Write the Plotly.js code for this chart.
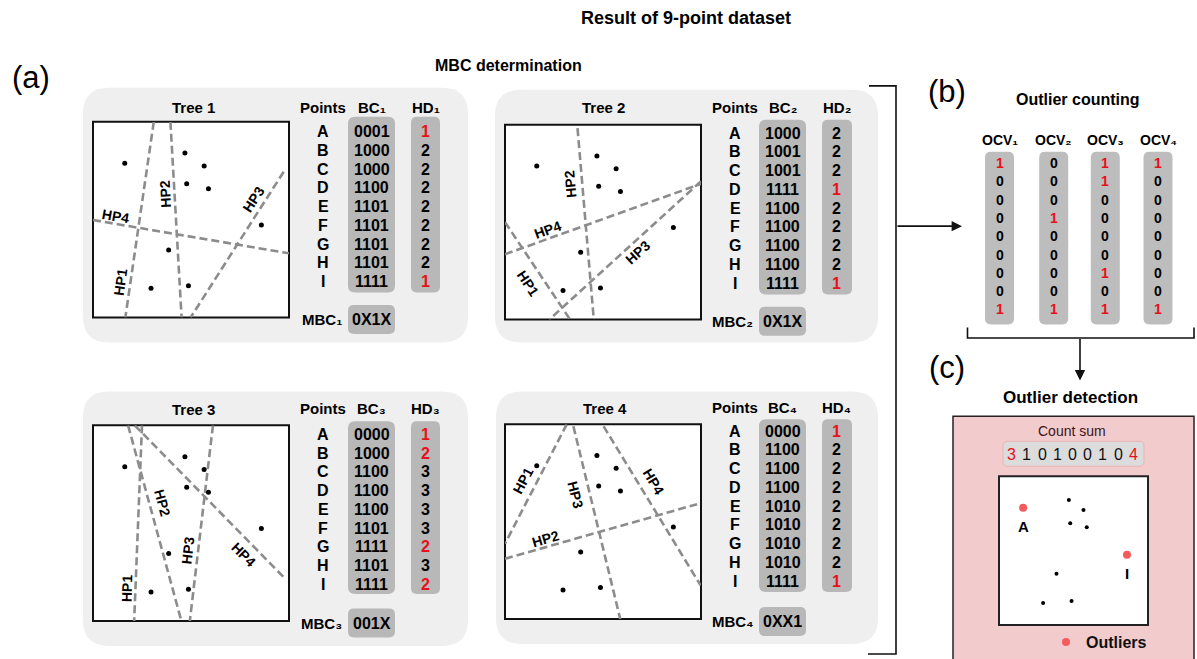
<!DOCTYPE html>
<html><head><meta charset="utf-8">
<script src="https://cdn.plot.ly/plotly-3.0.1.min.js"></script>
<style>html,body{margin:0;padding:0;background:#fff}#chart{width:1197px;height:659px}</style>
</head><body><div id="chart"></div>
<script>
// ---------------- DATA ----------------
const pointNames = ['A','B','C','D','E','F','G','H','I'];
// normalized positions inside each square (x from left, y from top)
const ptX = [0.162, 0.469, 0.567, 0.478, 0.589, 0.386, 0.296, 0.487, 0.859];
const ptY = [0.212, 0.160, 0.226, 0.316, 0.342, 0.655, 0.851, 0.838, 0.527];

const BC1 = ['0001','1000','1000','1100','1101','1101','1101','1101','1111'];
const BC2 = ['1000','1001','1001','1111','1100','1100','1100','1100','1111'];
const BC3 = ['0000','1000','1100','1100','1100','1101','1111','1101','1111'];
const BC4 = ['0000','1100','1100','1100','1010','1010','1010','1010','1111'];
const HD1 = [1,2,2,2,2,2,2,2,1];
const HD2 = [2,2,2,1,2,2,2,2,1];
const HD3 = [1,2,3,3,3,3,2,3,2];
const HD4 = [1,2,2,2,2,2,2,2,1];
const MBC = ['0X1X','0X1X','001X','0XX1'];
const OCV1 = [1,0,0,0,0,0,0,0,1];
const OCV2 = [0,0,0,1,0,0,0,0,1];
const OCV3 = [1,1,0,0,0,0,1,0,1];
const OCV4 = [1,0,0,0,0,0,0,0,1];
const countSum = [3,1,0,1,0,0,1,0,4];
const outlierFlag = [1,0,0,0,0,0,0,0,1];
const subs = ['\u2081','\u2082','\u2083','\u2084'];

const hpNames = ['HP1','HP2','HP3','HP4'];
// hyperplane endpoints (normalized) per tree: [x0,y0,x1,y1]
const HP_T1 = [[0.310,0,0.165,1],[0.395,0,0.452,1],[0.973,0.255,0.498,1],[0,0.502,1,0.672]];
const HP_T2 = [[0,0.500,0.332,1],[0.370,0.017,0.453,1],[1,0.290,0.226,1],[0,0.665,1,0.303]];
const HP_T3 = [[0.250,0,0.210,1],[0.179,0,0.451,1],[0.612,0,0.494,1],[0.213,0,0.978,0.781]];
const HP_T4 = [[0.315,0,0,0.613],[0,0.690,0.980,0.410],[0.349,0.010,0.588,1],[0.503,0.010,0.998,0.827]];

const BCs = [BC1,BC2,BC3,BC4], HDs = [HD1,HD2,HD3,HD4], OCVs = [OCV1,OCV2,OCV3,OCV4];
const HPs = [HP_T1,HP_T2,HP_T3,HP_T4];

// ---------------- LAYOUT POSITIONS (pixels) ----------------
const W = 1197, H = 659;
const X = p => p / W, Y = p => 1 - p / H;
const FONT = 'Liberation Sans, Arial, Helvetica, sans-serif';
const RED = '#e8101a', GRAYBOX = '#b8b8b8', PANEL = '#efefef';

const panels = [
 {box:[93,122,289,318], panel:[83,88,468,343], title:[193,108], hdrY:108, ptsX:323, bcX:371.7, hdX:425.5, row0:131.7, bcBox:[348,117,395,293], hdBox:[411,117,440,293], mbcY:320,
  hpLab:[[120,283,-82],[165,195,-93],[253,200,-57],[115,216,10]]},
 {box:[505,125,701,320], panel:[495,90,878,343], title:[603,108], hdrY:108, ptsX:735, bcX:782.7, hdX:836.7, row0:133.3, bcBox:[759,120,806,295], hdBox:[822,120,852,295], mbcY:321.7,
  hpLab:[[528,283,56],[570,185,-95],[637,253,-42],[547,230,-20]]},
 {box:[93,426,289,622], panel:[83,392,468,647], title:[193,410], hdrY:409.5, ptsX:323, bcX:371.5, hdX:425.5, row0:435, bcBox:[348,422,395,595], hdBox:[411,422,440,595], mbcY:624,
  hpLab:[[127,590,-88],[162,503,75],[188,552,-83],[243,555,45]]},
 {box:[505,425,701,620], panel:[496,392,878,645], title:[605,409], hdrY:408.5, ptsX:735, bcX:782.7, hdX:836.7, row0:431.7, bcBox:[759,420,806,593], hdBox:[822,420,852,593], mbcY:622.5,
  hpLab:[[523,482,-62],[545,540,-16],[575,495,76],[653,482,59]]},
];
const ROWSP = 18.8;
const detBox = [999,477,1148,626];

function rr(x0,y0,x1,y1,r){
  const a=X(x0),b=X(x1),c=Y(y0),d=Y(y1),rx=r/W,ry=r/H;
  return `M${a+rx},${c} L${b-rx},${c} Q${b},${c} ${b},${c-ry} L${b},${d+ry} Q${b},${d} ${b-rx},${d} L${a+rx},${d} Q${a},${d} ${a},${d+ry} L${a},${c-ry} Q${a},${c} ${a+rx},${c} Z`;
}
const shapes = [], annotations = [], traces = [];
const layout = {width:W, height:H, margin:{l:0,r:0,t:0,b:0}, paper_bgcolor:'#fff', plot_bgcolor:'rgba(0,0,0,0)',
  showlegend:true, font:{family:FONT, color:'#000'}};

function ann(x,y,text,size,opts){
  annotations.push(Object.assign({xref:'paper',yref:'paper',x:X(x),y:Y(y),text:text,showarrow:false,
    xanchor:'center',yanchor:'middle',font:{family:FONT,size:size,color:'#000'}},opts||{}));
}
function rectShape(b,fill,line,lw,r){
  shapes.push({type:'path', xref:'paper', yref:'paper', path:rr(b[0],b[1],b[2],b[3],r||0), fillcolor:fill,
    line:{color:line||'rgba(0,0,0,0)', width:lw||0}, layer:'below'});
}

// ---------------- TREES ----------------
panels.forEach((p,t)=>{
  const n = t+2, xa='x'+n, ya='y'+n;
  rectShape(p.panel, PANEL, null, 0, 26);
  rectShape(p.box, '#fff', '#111', 2, 0);
  rectShape(p.bcBox, GRAYBOX, null, 0, 7);
  rectShape(p.hdBox, GRAYBOX, null, 0, 6);
  rectShape([p.bcBox[0], p.mbcY-14.5, p.bcBox[2], p.mbcY+14.5], GRAYBOX, null, 0, 6);
  layout['xaxis'+n] = {domain:[X(p.box[0]),X(p.box[2])], range:[0,1], visible:false, fixedrange:true, anchor:ya};
  layout['yaxis'+n] = {domain:[Y(p.box[3]),Y(p.box[1])], range:[1,0], visible:false, fixedrange:true, anchor:xa};
  HPs[t].forEach((h,k)=>{
    traces.push({type:'scatter', mode:'lines', x:[h[0],h[2]], y:[h[1],h[3]], xaxis:xa, yaxis:ya, showlegend:false,
      hoverinfo:'skip', line:{color:'#8c8c8c', width:2.6, dash:'8px,4px'}, name:hpNames[k]});
    const L = p.hpLab[k];
    ann(L[0],L[1],'<b>'+hpNames[k]+'</b>',14,{textangle:L[2]});
  });
  traces.push({type:'scatter', mode:'markers', x:ptX, y:ptY, xaxis:xa, yaxis:ya, showlegend:false,
    text:pointNames, hoverinfo:'text', marker:{color:'#000', size:5}});
  ann(p.title[0],p.title[1],'<b>Tree '+(t+1)+'</b>',15);
  ann(p.ptsX,p.hdrY,'<b>Points</b>',15);
  ann(p.bcX,p.hdrY,'<b>BC'+subs[t]+'</b>',15);
  ann(p.hdX,p.hdrY,'<b>HD'+subs[t]+'</b>',15);
  pointNames.forEach((nm,i)=>{
    const y = p.row0 + i*ROWSP;
    ann(p.ptsX,y,'<b>'+nm+'</b>',16);
    ann(p.bcX,y,'<b>'+BCs[t][i]+'</b>',16);
    ann(p.hdX,y,'<b>'+HDs[t][i]+'</b>',16,{font:{family:FONT,size:16,color:OCVs[t][i]?RED:'#000'}});
  });
  ann(p.bcBox[0]-4,p.mbcY,'<b>MBC'+subs[t]+'</b>',15,{xanchor:'right'});
  ann(p.bcX,p.mbcY,'<b>'+MBC[t]+'</b>',16);
});

// ---------------- TITLES / LABELS ----------------
ann(686,18,'<b>Result of 9-point dataset</b>',18);
ann(508,66,'<b>MBC determination</b>',16);
ann(31,78,'(a)',31);
ann(947,92,'(b)',31);
ann(947,368,'(c)',31);

// big bracket + arrow to (b)
shapes.push({type:'path',xref:'paper',yref:'paper',path:`M${X(869)},${Y(86)} L${X(896)},${Y(86)} L${X(896)},${Y(655)} L${X(868)},${Y(655)}`,line:{color:'#111',width:1.6}});
annotations.push({xref:'paper',yref:'paper',x:X(962),y:Y(226.5),ax:-66,ay:0,text:'',showarrow:true,arrowhead:2,arrowsize:1.3,arrowwidth:1.6,arrowcolor:'#111'});

// ---------------- OUTLIER COUNTING ----------------
ann(1078,100,'<b>Outlier counting</b>',16);
const ocvX = [999.5,1053.7,1105.3,1158];
OCVs.forEach((col,c)=>{
  rectShape([ocvX[c]-14.5,152,ocvX[c]+14.5,325], '#bdbdbd', null, 0, 6);
  ann(ocvX[c],140,'<b>OCV'+subs[c]+'</b>',14);
  col.forEach((v,i)=>{
    ann(ocvX[c],163.3+i*18.33,'<b>'+v+'</b>',14,{font:{family:FONT,size:14,color:v?RED:'#000'}});
  });
});
shapes.push({type:'path',xref:'paper',yref:'paper',path:`M${X(967.5)},${Y(328)} L${X(967.5)},${Y(338.5)} L${X(1194)},${Y(338.5)} L${X(1194)},${Y(328)}`,line:{color:'#111',width:1.6}});
annotations.push({xref:'paper',yref:'paper',x:X(1080),y:Y(381),ax:0,ay:-43,text:'',showarrow:true,arrowhead:2,arrowsize:1.3,arrowwidth:1.6,arrowcolor:'#111'});

// ---------------- OUTLIER DETECTION ----------------
ann(1070,398,'<b>Outlier detection</b>',17);
rectShape([953,417,1194,664], '#f2cbcc', '#2a2020', 1.5, 0);
rectShape([1003,442,1144,467], '#dcdcdc', '#eab4b4', 1, 5);
rectShape(detBox, '#fff', '#222', 2, 0);
ann(1072,431.5,'Count sum',14,{font:{family:FONT,size:14,color:'#3a1616'}});
countSum.forEach((v,i)=>{
  ann(1011.7+i*15.2,455,String(v),16,{font:{family:FONT,size:16,color:v>=3?RED:'#111'}});
});
layout.xaxis6 = {domain:[X(detBox[0]),X(detBox[2])], range:[0,1], visible:false, fixedrange:true, anchor:'y6'};
layout.yaxis6 = {domain:[Y(detBox[3]),Y(detBox[1])], range:[1,0], visible:false, fixedrange:true, anchor:'x6'};
const inX=[],inY=[],inN=[],outX=[],outY=[],outN=[];
pointNames.forEach((nm,i)=>{ if(outlierFlag[i]){outX.push(ptX[i]);outY.push(ptY[i]);outN.push(nm);} else {inX.push(ptX[i]);inY.push(ptY[i]);inN.push(nm);} });
traces.push({type:'scatter',mode:'markers',x:inX,y:inY,text:inN,xaxis:'x6',yaxis:'y6',showlegend:false,marker:{color:'#000',size:4}});
traces.push({type:'scatter',mode:'markers',x:outX,y:outY,text:outN,xaxis:'x6',yaxis:'y6',name:'<b>Outliers</b>',showlegend:true,marker:{color:'#f25c5c',size:8}});
outN.forEach((nm,k)=>{
  annotations.push({xref:'x6',yref:'y6',x:outX[k],y:outY[k],yshift:-19,text:'<b>'+nm+'</b>',showarrow:false,font:{family:FONT,size:15,color:'#000'}});
});
layout.legend = {x:X(1046), y:Y(643), xanchor:'left', yanchor:'middle', bgcolor:'rgba(0,0,0,0)', borderwidth:0,
  font:{family:FONT,size:16,color:'#111'}, itemclick:false, itemdoubleclick:false};

layout.shapes = shapes;
layout.annotations = annotations;
Plotly.newPlot('chart', traces, layout, {staticPlot:true, displayModeBar:false});
</script></body></html>
